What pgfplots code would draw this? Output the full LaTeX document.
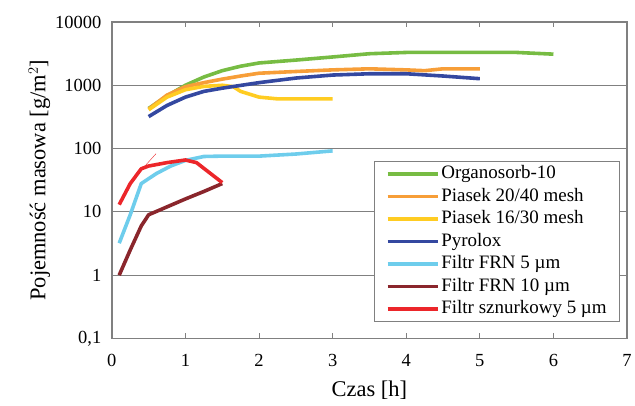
\documentclass[border=0pt]{standalone}
\usepackage{fontspec}
\setmainfont{Liberation Serif}
\usepackage{pgfplots}
\pgfplotsset{compat=1.18}
\definecolor{cgreen}{RGB}{119,188,67}
\definecolor{corange}{RGB}{247,158,56}
\definecolor{cyellow}{RGB}{255,204,34}
\definecolor{cblue}{RGB}{52,72,160}
\definecolor{clblue}{RGB}{110,205,236}
\definecolor{cdred}{RGB}{138,38,44}
\definecolor{cred}{RGB}{236,38,42}
\definecolor{cframe}{RGB}{128,128,128}
\begin{document}
\begin{tikzpicture}
\begin{axis}[
  name=ax,
  scale only axis,
  width=516pt, height=317pt,
  xmin=0, xmax=7,
  ymode=log, ymin=0.1, ymax=10000,
  xtick={0,1,2,3,4,5,6,7},
  ytick={0.1,1,10,100,1000,10000},
  yticklabels={{0,1},1,10,100,1000,10000},
  /pgf/number format/assume math mode=true,
  ticklabel style={font=\rmfamily\fontsize{18.5}{22}\selectfont},
  xticklabel style={yshift=-12pt},
  yticklabel style={xshift=-7pt},
  ymajorgrids,
  grid style={cframe, line width=1.2pt},
  axis line style={cframe, line width=1.8pt},
  tick style={cframe, line width=1pt},
  ytick style={draw=none},
  major tick length=5pt,
  minor tick num=0,
  yminorticks=false,
  xlabel={Czas [h]},
  ylabel={Pojemność masowa [g/m$^{2}$]},
  label style={font=\rmfamily\fontsize{22.5}{26}\selectfont},
  xlabel style={yshift=-8pt},
  ylabel style={yshift=-2pt},
  legend cell align=left,
  legend style={at={(0.9864,0.0536)}, anchor=south east, draw=cframe, line width=0.8pt,
    font=\rmfamily\fontsize{19}{22.7}\selectfont, inner xsep=11pt, inner ysep=1pt,
    nodes={text height=14pt, text depth=4.5pt, inner ysep=2pt, inner xsep=2pt}},
  legend image code/.code={\path (0pt,0pt) -- (50pt,0pt); \draw[#1,line width=3pt] (7pt,0pt) -- (50pt,0pt);},
  every axis plot/.append style={line width=3.6pt, line join=round},
]
\addplot[cgreen] coordinates {(0.5,430) (0.75,680) (1,1000) (1.25,1350) (1.5,1700) (1.75,2000) (2,2250) (2.5,2500) (3,2800) (3.5,3150) (4,3300) (4.5,3300) (5,3300) (5.5,3300) (6,3100)};
\addlegendentry{Organosorb-10}
\addplot[corange] coordinates {(0.5,420) (0.75,700) (1,950) (1.25,1100) (1.5,1250) (1.75,1400) (2,1550) (2.5,1650) (3,1750) (3.5,1820) (4,1750) (4.25,1700) (4.5,1820) (5,1820)};
\addlegendentry{Piasek 20/40 mesh}
\addplot[cyellow] coordinates {(0.5,410) (0.75,650) (1,850) (1.25,960) (1.5,1000) (1.65,950) (1.75,800) (2,650) (2.25,610) (3,610)};
\addlegendentry{Piasek 16/30 mesh}
\addplot[cblue] coordinates {(0.5,320) (0.75,480) (1,650) (1.25,800) (1.5,900) (2,1100) (2.5,1300) (3,1450) (3.5,1520) (4,1520) (4.5,1400) (5,1270)};
\addlegendentry{Pyrolox}
\addplot[clblue] coordinates {(0.1,3.2) (0.25,9) (0.4,28) (0.6,40) (0.8,53) (1,65) (1.25,75) (1.5,76) (2,76) (2.5,82) (3,92)};
\addlegendentry{Filtr FRN 5 µm}
\addplot[cdred] coordinates {(0.1,1) (0.25,2.5) (0.4,6) (0.5,9) (0.75,12) (1,16) (1.25,21) (1.5,28)};
\addlegendentry{Filtr FRN 10 µm}
\addplot[cred] coordinates {(0.1,13) (0.25,28) (0.4,48) (0.5,53) (0.75,60) (1,66) (1.15,60) (1.5,29)};
\addlegendentry{Filtr sznurkowy 5 µm}
\addplot[cred, line width=0.4pt, forget plot] coordinates {(0.43,50) (0.6,83)};
\end{axis}
\path[use as bounding box] ([xshift=-112pt,yshift=-67pt]ax.south west) rectangle ([xshift=7pt,yshift=22pt]ax.north east);
\end{tikzpicture}
\end{document}
